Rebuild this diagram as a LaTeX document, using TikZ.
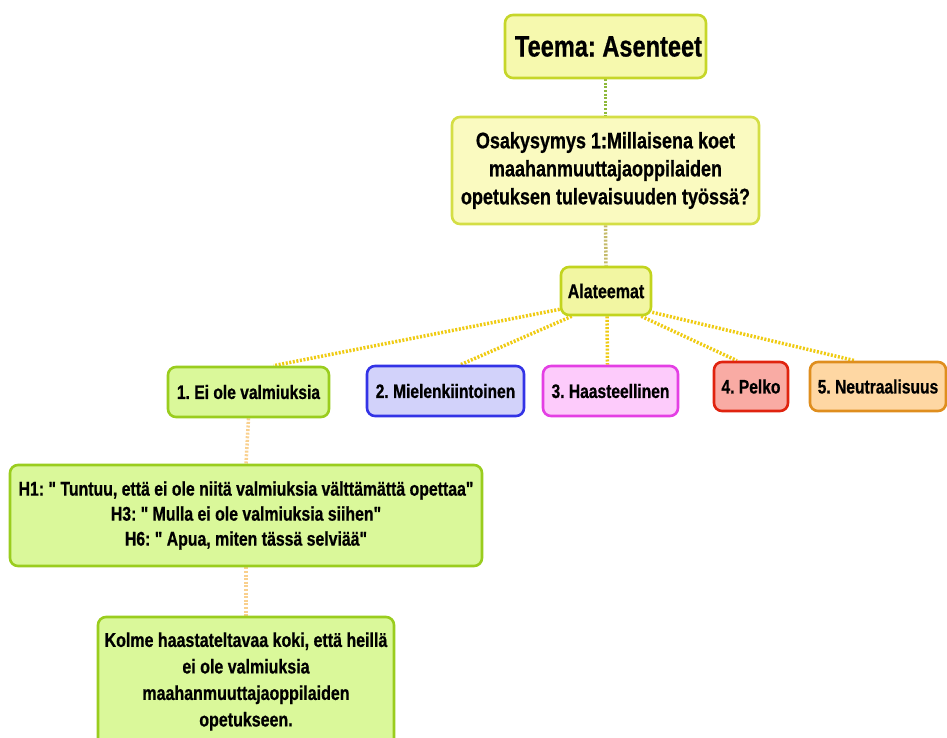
\documentclass[tikz,border=0pt]{standalone}
\usepackage{fontspec}
\setmainfont{Liberation Sans}[FakeStretch=0.8, Ligatures=TeXOff, BoldFeatures={FakeBold=0.7}]
\usetikzlibrary{calc,backgrounds}
\definecolor{teemaFill}{HTML}{F6F9AE}
\definecolor{teemaDraw}{HTML}{C6D62A}
\definecolor{osaFill}{HTML}{FAFAC0}
\definecolor{osaDraw}{HTML}{D4DE45}
\definecolor{alaFill}{HTML}{F2F6A2}
\definecolor{alaDraw}{HTML}{C2D41E}
\definecolor{greenFill}{HTML}{DAF89A}
\definecolor{greenDraw}{HTML}{9ACD1E}
\definecolor{blueFill}{HTML}{D2D2FA}
\definecolor{blueDraw}{HTML}{3333E6}
\definecolor{pinkFill}{HTML}{FDCBFB}
\definecolor{pinkDraw}{HTML}{E43FE4}
\definecolor{redFill}{HTML}{F9ABA4}
\definecolor{redDraw}{HTML}{E0230F}
\definecolor{orangeFill}{HTML}{FED7A3}
\definecolor{orangeDraw}{HTML}{DF8E1E}
\definecolor{linkGreen}{HTML}{8DB83A}
\definecolor{linkOlive}{HTML}{C4BA6A}
\definecolor{linkYellow}{HTML}{EFCB12}
\definecolor{linkOrange}{HTML}{F9D08E}
\frenchspacing
\tikzset{
  topic/.style={rectangle, rounded corners=8pt, line width=2.6pt, inner sep=0pt,
    align=center, font=\bfseries},
  link/.style={line width=3.5pt, dash pattern=on 2pt off 1.6pt},
}
\begin{document}
\begin{tikzpicture}[x=1pt,y=-1pt]
\useasboundingbox (0,0) rectangle (947,738);
\clip (0,0) rectangle (947,738);

\node[topic, fill=teemaFill, draw=teemaDraw, minimum width=201pt, minimum height=63pt,
  font=\bfseries\fontsize{29.5}{33}\selectfont] (teema) at (605.5,46.5) {\hspace*{6pt}Teema: Asenteet};
\node[topic, fill=osaFill, draw=osaDraw, minimum width=307pt, minimum height=107pt,
  font=\bfseries\fontsize{22.5}{28}\selectfont] (osa) at (605.5,170.5)
  {Osakysymys 1:Millaisena koet\\maahanmuuttajaoppilaiden\\opetuksen tulevaisuuden työssä?};
\node[topic, fill=alaFill, draw=alaDraw, minimum width=90pt, minimum height=48pt,
  font=\bfseries\fontsize{20}{22}\selectfont] (ala) at (606,291) {Alateemat};

\node[topic, fill=greenFill, draw=greenDraw, minimum width=161pt, minimum height=50pt,
  font=\bfseries\fontsize{19.5}{22}\selectfont] (b1) at (248.5,392) {1. Ei ole valmiuksia};
\node[topic, fill=blueFill, draw=blueDraw, minimum width=157pt, minimum height=50pt,
  font=\bfseries\fontsize{19.5}{22}\selectfont] (b2) at (445.5,391) {2. Mielenkiintoinen};
\node[topic, fill=pinkFill, draw=pinkDraw, minimum width=135pt, minimum height=50pt,
  font=\bfseries\fontsize{19.5}{22}\selectfont] (b3) at (610.5,391) {3. Haasteellinen};
\node[topic, fill=redFill, draw=redDraw, minimum width=74pt, minimum height=49pt,
  font=\bfseries\fontsize{19.5}{22}\selectfont] (b4) at (751,386.5) {4. Pelko};
\node[topic, fill=orangeFill, draw=orangeDraw, minimum width=136pt, minimum height=49pt,
  font=\bfseries\fontsize{19.5}{22}\selectfont] (b5) at (878,386.5) {5. Neutraalisuus};

\node[topic, fill=greenFill, draw=greenDraw, minimum width=472pt, minimum height=101pt,
  font=\bfseries\fontsize{19.8}{25}\selectfont] (quotes) at (246,515.5)
  {H1: " Tuntuu, että ei ole niitä valmiuksia välttämättä opettaa"\\
   H3: " Mulla ei ole valmiuksia siihen"\\
   H6: " Apua, miten tässä selviää"};
\node[topic, fill=greenFill, draw=greenDraw, minimum width=296pt, minimum height=129pt,
  font=\bfseries\fontsize{20}{26.5}\selectfont] (summary) at (246,681.5)
  {Kolme haastateltavaa koki, että heillä\\ei ole valmiuksia\\maahanmuuttajaoppilaiden\\opetukseen.};

\begin{scope}[on background layer]
  \draw[link, linkGreen] (teema.south) -- (osa.north);
  \draw[link, linkOlive] (osa.south) -- (ala.north);
  \draw[link, linkYellow] ($(ala.south west)+(0,-7)$) -- ($(b1.north)+(25,0)$);
  \draw[link, linkYellow] ($(ala.south west)+(12,0)$) -- ($(b2.north)+(15,0)$);
  \draw[link, linkYellow] ($(ala.south)+(1,0)$) -- ($(b3.north)+(-3,0)$);
  \draw[link, linkYellow] ($(ala.south east)+(-11,0)$) -- ($(b4.north)+(-14,0)$);
  \draw[link, linkYellow] ($(ala.south east)+(0,-4)$) -- ($(b5.north)+(-23,0)$);
  \draw[link, linkOrange] (b1.south) -- (quotes.north);
  \draw[link, linkOrange] (quotes.south) -- (summary.north);
\end{scope}
\end{tikzpicture}
\end{document}
